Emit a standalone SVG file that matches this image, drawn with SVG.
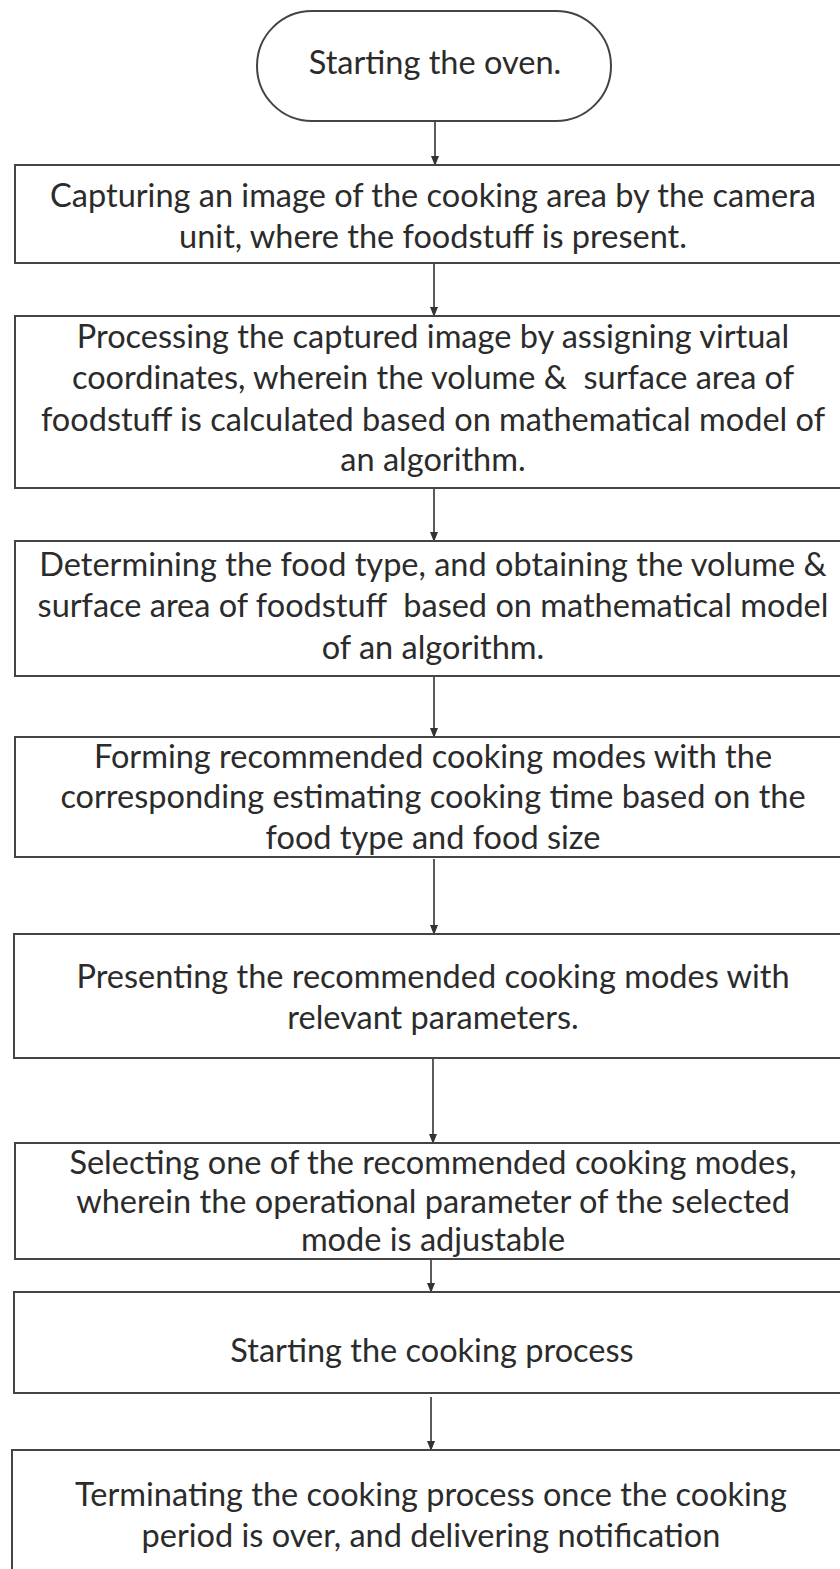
<svg xmlns="http://www.w3.org/2000/svg" width="840" height="1569" viewBox="0 0 840 1569">
<defs>
<marker id="ah" markerWidth="10" markerHeight="10" refX="9" refY="5" orient="auto" markerUnits="userSpaceOnUse">
<path d="M0,1 L10,5 L0,9 Z" fill="#333"/>
</marker>
<style>
.n{fill:#fff;stroke:#444;stroke-width:2}
.t{font-family:Lato,"Open Sans",sans-serif;font-size:32.5px;fill:#2b2b2b;text-anchor:middle}
.c{stroke:#333;stroke-width:1.6;fill:none;marker-end:url(#ah)}
</style>
</defs>
<rect width="840" height="1569" fill="#fff"/>
<g id="connectors">
<line class="c" x1="435" y1="121" x2="435" y2="165"/>
<line class="c" x1="434" y1="263" x2="434" y2="316"/>
<line class="c" x1="434" y1="488" x2="434" y2="541"/>
<line class="c" x1="434" y1="676" x2="434" y2="737"/>
<line class="c" x1="434" y1="859" x2="434" y2="934"/>
<line class="c" x1="433" y1="1058" x2="433" y2="1143"/>
<line class="c" x1="431" y1="1259" x2="431" y2="1292"/>
<line class="c" x1="431" y1="1397" x2="431" y2="1450"/>
</g>
<g id="start">
<rect class="n" x="257" y="11" width="354" height="110" rx="55" ry="55"/>
<text class="t" x="435" y="74">Starting the oven.</text>
</g>
<g id="capture">
<rect class="n" x="15" y="165" width="840" height="98"/>
<text class="t" x="433" y="207">Capturing an image of the cooking area by the camera</text>
<text class="t" x="433" y="248">unit, where the foodstuff is present.</text>
</g>
<g id="process">
<rect class="n" x="15" y="316" width="840" height="172"/>
<text class="t" x="433" y="348">Processing the captured image by assigning virtual</text>
<text class="t" x="433" y="389" xml:space="preserve">coordinates, wherein the volume &amp;  surface area of</text>
<text class="t" x="433" y="431">foodstuff is calculated based on mathematical model of</text>
<text class="t" x="433" y="471">an algorithm.</text>
</g>
<g id="determine">
<rect class="n" x="15" y="541" width="840" height="135"/>
<text class="t" x="433" y="576">Determining the food type, and obtaining the volume &amp;</text>
<text class="t" x="433" y="617" xml:space="preserve">surface area of foodstuff  based on mathematical model</text>
<text class="t" x="433" y="659">of an algorithm.</text>
</g>
<g id="form">
<rect class="n" x="15" y="737" width="840" height="120"/>
<text class="t" x="433" y="768">Forming recommended cooking modes with the</text>
<text class="t" x="433" y="808">corresponding estimating cooking time based on the</text>
<text class="t" x="433" y="849">food type and food size</text>
</g>
<g id="present">
<rect class="n" x="14" y="934" width="840" height="124"/>
<text class="t" x="433" y="988">Presenting the recommended cooking modes with</text>
<text class="t" x="433" y="1029">relevant parameters.</text>
</g>
<g id="select">
<rect class="n" x="15" y="1143" width="840" height="116"/>
<text class="t" x="433" y="1174">Selecting one of the recommended cooking modes,</text>
<text class="t" x="433" y="1213">wherein the operational parameter of the selected</text>
<text class="t" x="433" y="1251">mode is adjustable</text>
</g>
<g id="cook">
<rect class="n" x="14" y="1292" width="840" height="101"/>
<text class="t" x="432" y="1362">Starting the cooking process</text>
</g>
<g id="terminate">
<rect class="n" x="12" y="1450" width="840" height="140"/>
<text class="t" x="431" y="1506">Terminating the cooking process once the cooking</text>
<text class="t" x="431" y="1547">period is over, and delivering notification</text>
</g>
</svg>
